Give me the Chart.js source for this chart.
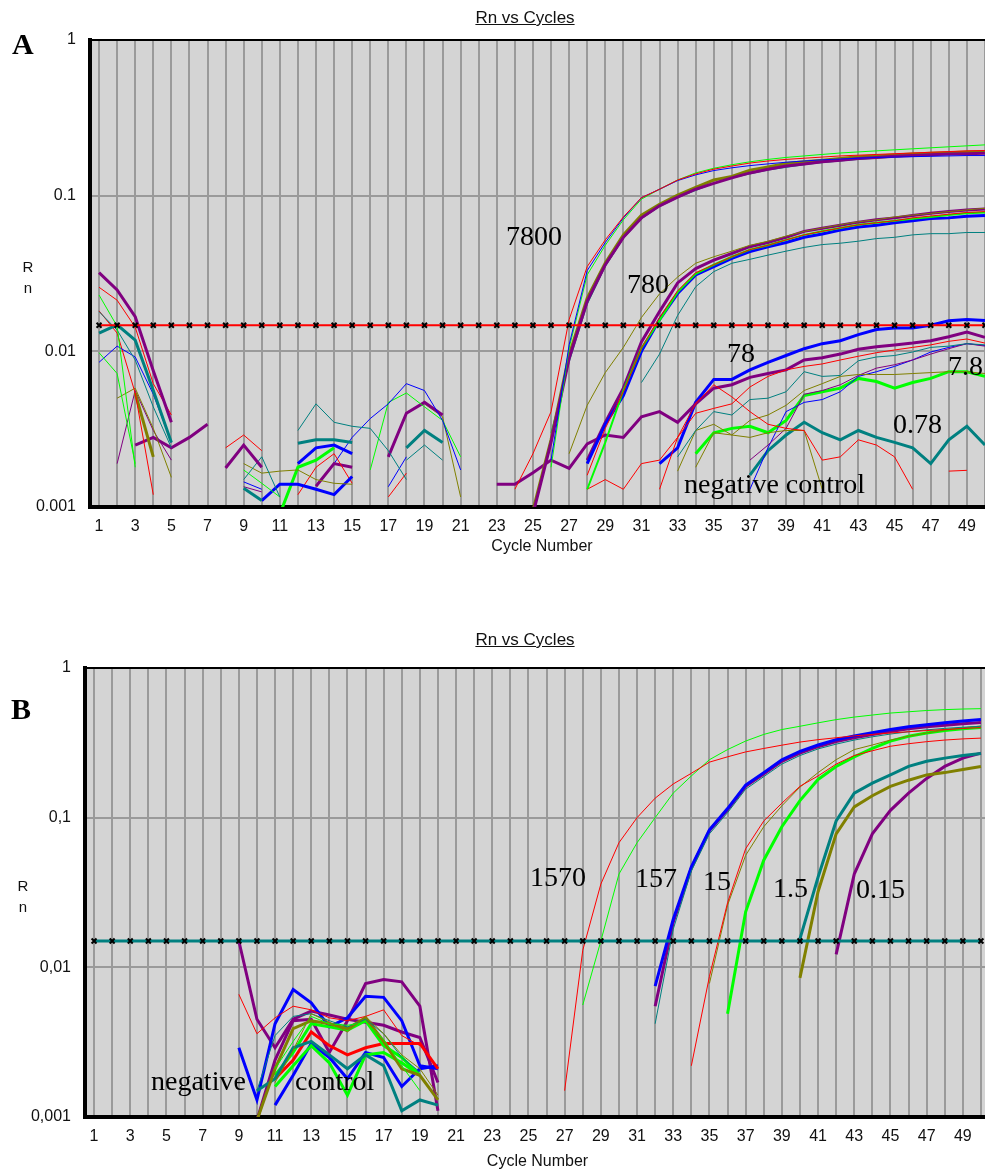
<!DOCTYPE html>
<html>
<head>
<meta charset="utf-8">
<title>Rn vs Cycles</title>
<script src="https://cdn.jsdelivr.net/npm/chart.js@4.4.1/dist/chart.umd.min.js"></script>
<style>
    html, body { margin: 0; padding: 0; background: #fff; }
    body { width: 985px; height: 1171px; overflow: hidden; position: relative; font-family: "Liberation Sans", Arial, sans-serif; }
    canvas { position: absolute; left: 0; }
    #chartA { top: 0; }
    #chartB { top: 600px; }
    .title { position: absolute; width: 200px; text-align: center; font-size: 17px; line-height: 18px; text-decoration: underline; color: #111; }
    .panel { position: absolute; font: bold 30px/30px "Liberation Serif", serif; color: #000; }
    .rn { position: absolute; width: 14px; text-align: center; font-size: 15px; line-height: 16px; color: #111; }
    .note { position: absolute; font: 28px/28px "Liberation Serif", serif; color: #000; white-space: nowrap; }
</style>
</head>
<body>
<canvas id="chartA" width="1000" height="565"></canvas>
<canvas id="chartB" width="1000" height="571"></canvas>

<div class="title" style="left:425px;top:9px">Rn vs Cycles</div>
<div class="title" style="left:425px;top:631px">Rn vs Cycles</div>
<div class="panel" style="left:12px;top:29px">A</div>
<div class="panel" style="left:11px;top:694px">B</div>
<div class="rn" style="left:21px;top:259px">R</div>
<div class="rn" style="left:21px;top:280px">n</div>
<div class="rn" style="left:16px;top:878px">R</div>
<div class="rn" style="left:16px;top:899px">n</div>

<div class="note" style="left:506px;top:222px">7800</div>
<div class="note" style="left:627px;top:270px">780</div>
<div class="note" style="left:727px;top:339px">78</div>
<div class="note" style="left:948px;top:352px">7.8</div>
<div class="note" style="left:893px;top:410px">0.78</div>
<div class="note" style="left:684px;top:470px">negative control</div>

<div class="note" style="left:530px;top:863px">1570</div>
<div class="note" style="left:635px;top:864px">157</div>
<div class="note" style="left:703px;top:867px">15</div>
<div class="note" style="left:773px;top:874px">1.5</div>
<div class="note" style="left:856px;top:875px">0.15</div>
<div class="note" style="left:151px;top:1067px">negative</div>
<div class="note" style="left:295px;top:1067px">control</div>

<script>
// Axis ticks
var yTickValues = [0.001, 0.01, 0.1, 1];
var yLabelsA = ['0.001', '0.01', '0.1', '1'];
var yLabelsB = ['0,001', '0,01', '0,1', '1'];
var cycles = [1, 2, 3, 4, 5, 6, 7, 8, 9, 10, 11, 12, 13, 14, 15, 16, 17, 18, 19, 20, 21, 22, 23, 24, 25,
    26, 27, 28, 29, 30, 31, 32, 33, 34, 35, 36, 37, 38, 39, 40, 41, 42, 43, 44, 45, 46, 47, 48, 49, 50];

var thresholdA = 0.0147;
var thresholdB = 0.0150;

// Panel A - early background noise (cycles 1-7)
var aE1 = [0.032, 0.0248, 0.0167, 0.0075, 0.0035];
var aE2 = [0.0258, 0.0213, 0.0143, 0.0062, 0.0039];
var aE3 = [0.023, 0.0145, 0.0018];
var aE4 = [0.0098, 0.0072, 0.0019];
var aE5 = [0.0131, 0.0148, 0.0118, 0.0056, 0.0026];
var aE6 = [0.018, 0.0137, 0.0088, 0.0044, 0.0024];
var aE7 = [0.0085, 0.0108, 0.0092, 0.0053, 0.0026];
var aE8 = [0.0182, 0.0131, 0.0054, 0.0012];
var aE9 = [0.005, 0.0058, 0.0032, 0.00155];
var aE10 = [0.0054, 0.0021];
var aE11 = [0.0019, 0.0056, 0.0031, 0.002];
var aE12 = [0.0025, 0.0028, 0.0024, 0.0028, 0.0034];

// Panel A - noise cycles 8-21
var aM1 = [0.00178, 0.0025, 0.0018];
var aM2 = [0.0024, 0.0029, 0.0023];
var aM3 = [0.0015, 0.0021, 0.00116];
var aM4 = [0.0019, 0.00165, 0.0017, 0.00173, 0.0015, 0.00142, 0.0014];
var aM5 = [0.00132, 0.0011];
var aM6 = [0.00145, 0.0013];
var aM7 = [0.00173, 0.00142, 0.00116];
var aM8 = [0.0011, 0.0014, 0.0014, 0.0013, 0.0012, 0.00157];
var aM9 = [0.0019, 0.0024, 0.0025, 0.0022];
var aM10 = [0.00257, 0.0027, 0.0027, 0.0026];
var aM11 = [0.0009, 0.0018, 0.002, 0.0024];
var aM12 = [0.0012, 0.0018, 0.0022, 0.00142];
var aM13 = [0.00136, 0.0019, 0.0018];
var aM14 = [0.0031, 0.0046, 0.0035, 0.0033, 0.0032, 0.0023, 0.0015];
var aM15 = [0.0019, 0.0028, 0.0037, 0.0046, 0.0062, 0.0056, 0.0036, 0.00173];
var aM16 = [0.00173, 0.0047, 0.0054, 0.0044, 0.0036, 0.0021];
var aM17 = [0.0021, 0.004, 0.0047, 0.0039];
var aM18 = [0.0046, 0.0038, 0.00116];
var aM19 = [0.0024, 0.0031, 0.0026];
var aM20 = [0.002, 0.0025, 0.002];
var aM21 = [0.00135, 0.0021];
var aM22 = [0.00116, 0.00165];
var aM23 = [0.00135, 0.00125];

// Panel A - 7800 copies
var a7800Red = [0.0013, 0.0022, 0.0041, 0.016, 0.035, 0.052, 0.073, 0.097, 0.11, 0.126, 0.138, 0.148, 0.155, 0.162,
    0.167, 0.171, 0.174, 0.177, 0.18, 0.182, 0.184, 0.186, 0.188, 0.19, 0.192, 0.194, 0.195];
var a7800Blue = [0.002, 0.011, 0.033, 0.05, 0.072, 0.097, 0.11, 0.125, 0.136, 0.145, 0.151, 0.156, 0.16, 0.164,
    0.167, 0.17, 0.172, 0.174, 0.176, 0.177, 0.178, 0.179, 0.18, 0.181, 0.181];
var a7800Green = [0.0018, 0.0105, 0.031, 0.048, 0.07, 0.095, 0.11, 0.126, 0.14, 0.15, 0.158, 0.165, 0.171, 0.176,
    0.18, 0.184, 0.188, 0.191, 0.194, 0.197, 0.2, 0.203, 0.206, 0.209, 0.212];
var a7800Olive = [0.00095, 0.0027, 0.0095, 0.022, 0.037, 0.056, 0.075, 0.088, 0.101, 0.113, 0.126, 0.133, 0.146,
    0.153, 0.161, 0.165, 0.169, 0.173, 0.178, 0.18, 0.1825, 0.185, 0.187, 0.189, 0.191, 0.192];
var a7800Purple = [0.0009, 0.0026, 0.009, 0.021, 0.036, 0.054, 0.072, 0.086, 0.098, 0.11, 0.12, 0.13, 0.14, 0.148,
    0.155, 0.16, 0.165, 0.169, 0.173, 0.176, 0.179, 0.181, 0.183, 0.185, 0.186, 0.187];
var a7800Teal = [0.003, 0.0085, 0.02, 0.035, 0.053, 0.071, 0.085, 0.097, 0.108, 0.12, 0.13, 0.138, 0.146, 0.152,
    0.158, 0.163, 0.167, 0.171, 0.174, 0.177, 0.18, 0.182, 0.184, 0.186, 0.187];

// Panel A - 780 copies
var a780Purple = [0.002, 0.0035, 0.0058, 0.0115, 0.018, 0.0275, 0.034, 0.0385, 0.0425, 0.047, 0.05, 0.054, 0.059,
    0.0617, 0.0646, 0.0676, 0.07, 0.072, 0.0745, 0.077, 0.079, 0.081, 0.082];
var a780Blue = [0.0019, 0.0034, 0.0052, 0.01, 0.016, 0.0235, 0.031, 0.035, 0.0395, 0.0438, 0.047, 0.05, 0.054,
    0.0567, 0.0602, 0.063, 0.0646, 0.067, 0.069, 0.0714, 0.072, 0.0737, 0.0746];
var a780Red = [0.0016, 0.0032, 0.0055, 0.0105, 0.0165, 0.0245, 0.032, 0.036, 0.0405, 0.045, 0.048, 0.052, 0.056,
    0.059, 0.062, 0.065, 0.067, 0.069, 0.072, 0.074, 0.076, 0.078, 0.079];
var a780Green = [0.0013, 0.0026, 0.0056, 0.0105, 0.0158, 0.024, 0.0315, 0.036, 0.0405, 0.045, 0.048, 0.052, 0.056,
    0.059, 0.062, 0.065, 0.067, 0.069, 0.071, 0.073, 0.075, 0.077, 0.078];
var a780Olive = [0.0022, 0.0045, 0.0073, 0.0106, 0.0165, 0.0234, 0.03, 0.0368, 0.0405, 0.044, 0.048, 0.051, 0.055,
    0.059, 0.062, 0.065, 0.068, 0.07, 0.073, 0.075, 0.077, 0.079, 0.081, 0.083];
var a780Teal = [0.0063, 0.0096, 0.017, 0.026, 0.0325, 0.0368, 0.039, 0.0415, 0.044, 0.0465, 0.0485, 0.0495, 0.051,
    0.053, 0.054, 0.056, 0.057, 0.057, 0.058, 0.058];

// Panel A - 78, 7.8, 0.78 copies and negative controls
var a78Purple = [0.0014, 0.0014, 0.00166, 0.002, 0.00177, 0.00254, 0.0029, 0.0028, 0.0038, 0.0041, 0.0035, 0.0046,
    0.0058, 0.0061, 0.0068, 0.0072, 0.0076, 0.0088, 0.0091, 0.0096, 0.0103, 0.0107, 0.011, 0.0113, 0.0117, 0.0124,
    0.0133, 0.0123];
var a78Blue = [0.0019, 0.0024, 0.0047, 0.0066, 0.0066, 0.0076, 0.0085, 0.0094, 0.0104, 0.0112, 0.0117, 0.0128,
    0.0138, 0.0141, 0.0141, 0.0147, 0.0157, 0.016, 0.0158];
var a78Red = [0.0013, 0.0028, 0.004, 0.0043, 0.0046, 0.0059, 0.0069, 0.0076, 0.008, 0.0083, 0.0088, 0.0093, 0.0098,
    0.0102, 0.0106, 0.011, 0.0116, 0.012, 0.0113];
var aNegRed = [0.0013, 0.0015, 0.0013, 0.0019, 0.002, 0.0028, 0.0046, 0.0061, 0.0051, 0.0041, 0.0034, 0.0032,
    0.0031, 0.002, 0.0021, 0.0027, 0.0025, 0.0021, 0.0013];
var a78Teal = [0.0021, 0.0031, 0.0041, 0.0039, 0.0049, 0.005, 0.0055, 0.0074, 0.0069, 0.007, 0.0087, 0.0092, 0.0094,
    0.0099, 0.0106, 0.0108, 0.0112, 0.011];
var a7p8Green = [0.0022, 0.003, 0.0032, 0.0033, 0.003, 0.0036, 0.0052, 0.0055, 0.0058, 0.0067, 0.0064, 0.0058,
    0.0063, 0.0067, 0.0074, 0.0074, 0.0069];
var a7p8Purple = [0.002, 0.0025, 0.0032, 0.0053, 0.0056, 0.0061, 0.007, 0.0078, 0.0082, 0.0088, 0.0096, 0.0104,
    0.0112, 0.0108];
var a7p8Blue = [0.0013, 0.0024, 0.0041, 0.0047, 0.0049, 0.0055, 0.0069, 0.0074, 0.008, 0.0088, 0.0099, 0.0106,
    0.0112, 0.0109];
var a7p8Olive = [0.0017, 0.0031, 0.0034, 0.0029, 0.0036, 0.0039, 0.0045, 0.0056, 0.0062, 0.0069, 0.0071, 0.0071,
    0.0071, 0.0072, 0.0073, 0.0074, 0.0074, 0.0072];
var aNegOlive = [0.0018, 0.003, 0.0029, 0.0028, 0.003, 0.0031, 0.0031, 0.0013];
var a0p78Teal = [0.0016, 0.0023, 0.0029, 0.0035, 0.003, 0.0027, 0.0031, 0.0028, 0.0026, 0.0024, 0.0019, 0.0027,
    0.0033, 0.0025];
var aNegRed2 = [0.0017, 0.00172];

// Panel B - dilution series
var b1570Red = [0.0015, 0.013, 0.036, 0.068, 0.1, 0.135, 0.168, 0.198, 0.235, 0.255, 0.275, 0.29, 0.305, 0.32, 0.332,
    0.342, 0.352, 0.36, 0.368, 0.375, 0.382, 0.388, 0.394, 0.4];
var b1570Green = [0.0056, 0.015, 0.042, 0.068, 0.1, 0.146, 0.19, 0.244, 0.285, 0.325, 0.36, 0.388, 0.408, 0.43,
    0.452, 0.47, 0.485, 0.5, 0.51, 0.52, 0.527, 0.532, 0.535];
var b157Blue = [0.0075, 0.021, 0.047, 0.083, 0.115, 0.165, 0.2, 0.244, 0.277, 0.306, 0.332, 0.352, 0.37, 0.388,
    0.405, 0.418, 0.43, 0.442, 0.452];
var b157Purple = [0.0055, 0.02, 0.046, 0.082, 0.113, 0.162, 0.196, 0.238, 0.27, 0.298, 0.322, 0.342, 0.36, 0.377,
    0.392, 0.405, 0.415, 0.424, 0.432];
var b157Teal = [0.0042, 0.018, 0.044, 0.078, 0.108, 0.155, 0.188, 0.228, 0.26, 0.288, 0.31, 0.33, 0.347, 0.362,
    0.375, 0.386, 0.395, 0.402, 0.408];
var b15Red = [0.0022, 0.0087, 0.027, 0.062, 0.095, 0.125, 0.162, 0.19, 0.228, 0.26, 0.28, 0.3, 0.312, 0.322, 0.33,
    0.336, 0.34];
var b15Olive = [0.0078, 0.026, 0.056, 0.087, 0.12, 0.16, 0.2, 0.244, 0.285, 0.306, 0.33, 0.35, 0.368, 0.385, 0.398,
    0.41];
var b15Green = [0.0049, 0.0235, 0.052, 0.087, 0.13, 0.18, 0.22, 0.255, 0.29, 0.325, 0.35, 0.368, 0.382, 0.393, 0.4];
var b1p5Teal = [0.0155, 0.04, 0.095, 0.146, 0.17, 0.193, 0.22, 0.238, 0.25, 0.26, 0.268];
var b1p5Olive = [0.0085, 0.032, 0.078, 0.118, 0.14, 0.162, 0.178, 0.193, 0.2, 0.21, 0.22];
var b0p15Purple = [0.0122, 0.042, 0.078, 0.112, 0.146, 0.183, 0.22, 0.25, 0.27];

// Panel B - negative controls (cycles 9-20)
var bN1 = [0.015, 0.0045, 0.0029, 0.0045, 0.0051, 0.0048, 0.0045, 0.0043, 0.0041, 0.0037, 0.0034, 0.0017];
var bN2 = [0.00095, 0.0024, 0.0044, 0.0045, 0.0027, 0.0044, 0.0078, 0.0083, 0.008, 0.0055, 0.0011];
var bN3 = [0.0066, 0.0036, 0.0046, 0.0055, 0.0052, 0.0046, 0.0044, 0.0047, 0.0052, 0.0035, 0.003];
var bN4 = [0.0029, 0.0013, 0.0042, 0.0071, 0.0058, 0.004, 0.0046, 0.0064, 0.0063, 0.0044, 0.0022, 0.0021];
var bN5 = [0.0012, 0.0019, 0.0031, 0.0025, 0.0018, 0.0027, 0.0025, 0.0016, 0.0021, 0.0022];
var bN6 = [0.0018, 0.0024, 0.0037, 0.003, 0.0026, 0.0029, 0.0031, 0.0031, 0.0031, 0.0021];
var bN7 = [0.0019, 0.0027, 0.0042, 0.004, 0.0038, 0.0044, 0.003, 0.0025, 0.0019];
var bN8 = [0.0016, 0.0022, 0.003, 0.0023, 0.0014, 0.0026, 0.0027, 0.0023, 0.0019];
var bN9 = [0.0015, 0.0018, 0.0029, 0.0032, 0.0026, 0.0021, 0.0026, 0.0022, 0.0011, 0.0013, 0.0012];
var bN10 = [0.00095, 0.0021, 0.0039, 0.0044, 0.0042, 0.0039, 0.0046, 0.0032, 0.0021, 0.0019, 0.0013];
var bN11 = [0.0015, 0.0035, 0.0047, 0.0049, 0.0044, 0.004, 0.0045, 0.0036, 0.0025, 0.002];
var bN12 = [0.0021, 0.0032, 0.0047, 0.0042, 0.0041, 0.0043, 0.0033, 0.0022, 0.0015];
var bN13 = [0.0017, 0.0028, 0.0049, 0.0043, 0.0037, 0.0047, 0.0036, 0.0026, 0.0021, 0.0014];

var colours = {
    red: '#ff0000',
    green: '#00ff00',
    blue: '#0000ff',
    purple: '#800080',
    olive: '#808000',
    teal: '#008080'
};

// [values, first cycle, colour, line width]
var seriesA = [
    [aE1, 1, 'purple', 3], [aE2, 1, 'red', 1], [aE3, 1, 'green', 1], [aE4, 1, 'green', 1],
    [aE5, 1, 'teal', 3], [aE6, 1, 'teal', 1], [aE7, 1, 'blue', 1], [aE8, 1, 'red', 1],
    [aE9, 2, 'olive', 1], [aE10, 3, 'olive', 3], [aE11, 2, 'purple', 1], [aE12, 3, 'purple', 3],
    [aM1, 8, 'purple', 3], [aM2, 8, 'red', 1], [aM3, 9, 'teal', 1], [aM4, 9, 'olive', 1],
    [aM5, 9, 'teal', 3], [aM6, 9, 'blue', 1], [aM7, 9, 'green', 1], [aM8, 10, 'blue', 3],
    [aM9, 12, 'blue', 3], [aM10, 12, 'teal', 3], [aM11, 11, 'green', 3], [aM12, 12, 'red', 1],
    [aM13, 13, 'purple', 3], [aM14, 12, 'teal', 1], [aM15, 14, 'blue', 1], [aM16, 16, 'green', 1],
    [aM17, 17, 'purple', 3], [aM18, 19, 'olive', 1], [aM19, 18, 'teal', 3], [aM20, 18, 'teal', 1],
    [aM21, 17, 'blue', 1], [aM22, 17, 'red', 1], [aM23, 9, 'purple', 1],
    [a7800Red, 24, 'red', 1], [a7800Blue, 26, 'blue', 1], [a7800Green, 26, 'green', 1],
    [a7800Purple, 25, 'purple', 3], [a7800Olive, 25, 'olive', 3], [a7800Teal, 26, 'teal', 1],
    [a780Teal, 31, 'teal', 1], [a780Olive, 27, 'olive', 1], [a780Red, 28, 'red', 1],
    [a780Green, 28, 'green', 2], [a780Blue, 28, 'blue', 3], [a780Purple, 28, 'purple', 3],
    [aNegRed, 28, 'red', 1], [a78Red, 32, 'red', 1], [a78Teal, 33, 'teal', 1],
    [a7p8Olive, 33, 'olive', 1], [aNegOlive, 34, 'olive', 1], [a7p8Purple, 37, 'purple', 1],
    [a7p8Blue, 37, 'blue', 1], [a7p8Green, 34, 'green', 3], [a0p78Teal, 37, 'teal', 3],
    [aNegRed2, 48, 'red', 1], [a78Purple, 23, 'purple', 3], [a78Blue, 32, 'blue', 3]
];

var seriesB = [
    [bN13, 11, 'olive', 1], [bN12, 11, 'green', 1], [bN11, 10, 'teal', 1], [bN3, 9, 'red', 1],
    [bN10, 10, 'olive', 3], [bN9, 10, 'teal', 3], [bN8, 11, 'green', 3], [bN7, 11, 'green', 3],
    [bN6, 11, 'red', 3], [bN5, 11, 'blue', 3], [bN4, 9, 'blue', 3], [bN2, 10, 'purple', 3],
    [bN1, 9, 'purple', 3],
    [b1570Red, 27, 'red', 1], [b1570Green, 28, 'green', 1],
    [b157Teal, 32, 'teal', 1], [b157Blue, 32, 'blue', 3], [b157Purple, 32, 'purple', 3],
    [b15Red, 34, 'red', 1], [b15Olive, 35, 'olive', 1], [b15Green, 36, 'green', 3],
    [b1p5Olive, 40, 'olive', 3], [b1p5Teal, 40, 'teal', 3], [b0p15Purple, 42, 'purple', 3]
];

function toPoints(values, start) {
    return values.map(function (v, i) {
        return {x: start + i, y: v};
    });
}

function buildDatasets(list, threshold, thresholdColour, thresholdWidth) {
    var sets = [{
        data: cycles.map(function (c) { return {x: c, y: threshold}; }),
        borderColor: thresholdColour,
        borderWidth: thresholdWidth,
        pointStyle: 'crossRot',
        pointRadius: 3.5,
        pointBorderColor: '#000',
        pointBorderWidth: 2,
        pointBackgroundColor: '#000'
    }];
    list.forEach(function (s) {
        sets.push({
            data: toPoints(s[0], s[1]),
            borderColor: colours[s[2]],
            borderWidth: s[3],
            pointRadius: 0,
            tension: 0,
            fill: false
        });
    });
    return sets;
}

// grey plot background and black top edge
var plotFrame = {
    id: 'plotFrame',
    beforeDraw: function (chart) {
        var a = chart.chartArea, ctx = chart.ctx;
        ctx.save();
        ctx.fillStyle = '#d4d4d4';
        ctx.fillRect(a.left, a.top, a.right - a.left, a.bottom - a.top);
        ctx.restore();
    },
    afterDraw: function (chart) {
        var a = chart.chartArea, ctx = chart.ctx;
        ctx.save();
        ctx.strokeStyle = '#000';
        ctx.lineWidth = 2;
        ctx.beginPath();
        ctx.moveTo(a.left, a.top);
        ctx.lineTo(a.right, a.top);
        ctx.stroke();
        ctx.restore();
    }
};

function makeOptions(cfg) {
    var tickFont = {family: 'Liberation Sans', size: 16};
    return {
        responsive: false,
        animation: false,
        events: [],
        layout: {padding: cfg.padding},
        plugins: {legend: {display: false}, tooltip: {enabled: false}, title: {display: false}},
        elements: {line: {borderCapStyle: 'butt', borderJoinStyle: 'miter'}},
        scales: {
            x: {
                type: 'linear',
                min: 0.5,
                max: 50.5,
                afterBuildTicks: function (s) { s.ticks = cycles.map(function (c) { return {value: c}; }); },
                afterFit: function (s) { s.height = cfg.xHeight; },
                grid: {color: '#9a9a9a', lineWidth: 2, drawTicks: false},
                border: {color: '#000', width: 4},
                ticks: {
                    autoSkip: false, maxRotation: 0, padding: cfg.xTickPad, color: '#111', font: tickFont,
                    callback: function (v) { return v % 2 === 1 ? String(v) : ''; }
                },
                title: {
                    display: true, text: 'Cycle Number', color: '#111', font: tickFont,
                    padding: {top: 0, bottom: cfg.xTitlePad}
                }
            },
            y: {
                type: 'logarithmic',
                min: 0.001,
                max: 1,
                afterBuildTicks: function (s) { s.ticks = yTickValues.map(function (v) { return {value: v}; }); },
                afterFit: function (s) { s.width = cfg.yWidth; },
                grid: {color: '#9a9a9a', lineWidth: 2, drawTicks: false},
                border: {color: '#000', width: 4},
                ticks: {
                    padding: 14, color: '#111', font: tickFont,
                    callback: function (v, i) { return cfg.yLabels[i]; }
                }
            }
        }
    };
}

new Chart(document.getElementById('chartA'), {
    type: 'line',
    data: {datasets: buildDatasets(seriesA, thresholdA, '#ff0000', 2)},
    options: makeOptions({
        padding: {top: 40, left: 0, right: 4, bottom: 0},
        yWidth: 90, xHeight: 58, xTickPad: 10, xTitlePad: 9, yLabels: yLabelsA
    }),
    plugins: [plotFrame]
});

new Chart(document.getElementById('chartB'), {
    type: 'line',
    data: {datasets: buildDatasets(seriesB, thresholdB, '#008080', 3)},
    options: makeOptions({
        padding: {top: 68, left: 0, right: 10, bottom: 0},
        yWidth: 85, xHeight: 54, xTickPad: 10, xTitlePad: 0, yLabels: yLabelsB
    }),
    plugins: [plotFrame]
});
</script>
</body>
</html>
